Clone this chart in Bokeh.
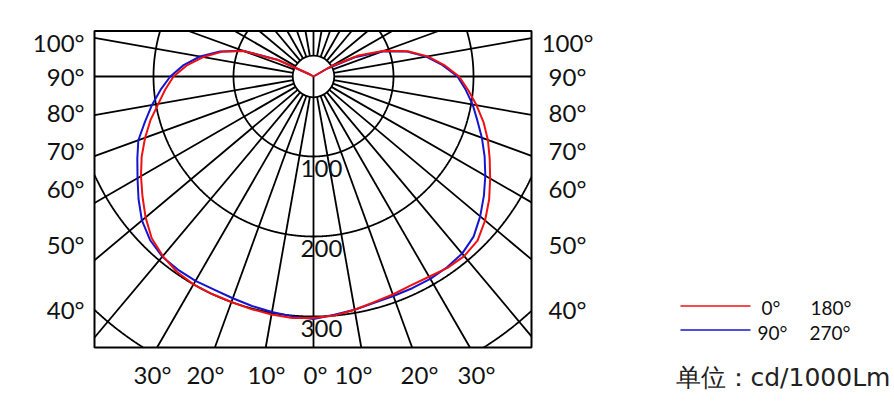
import numpy as np
from bokeh.plotting import figure
from bokeh.models import Range1d
from bokeh.core.properties import value
from bokeh.embed import file_html
from bokeh.resources import INLINE

# ---------------- data (cd/1000lm) ----------------
angles = [0, 5, 10, 15, 20, 25, 30, 35, 40, 45, 50, 55, 60, 65, 70, 75, 80, 85,
          90, 95, 100, 105, 110, 115, 120, 125]
c0_red = [302, 300, 296, 292, 290, 288, 289, 292, 293, 290, 280, 268, 255, 243,
          232, 220, 207, 194, 182, 164, 145, 122, 94, 62, 25, 0]
c180_red = [302, 303, 302, 301, 300, 300, 300, 298, 293, 286, 274, 261, 249, 237,
            224, 211, 197, 186, 175, 159, 140, 119, 93, 48, 5, 0]
c90_blue = [303, 299, 296, 293, 292, 292, 292, 291, 289, 283, 272, 260, 248, 236,
            224, 212, 202, 191, 180, 162, 143, 121, 92, 57, 20, 0]
c270_blue = [303, 301, 299, 297, 295, 294, 295, 295, 294, 289, 280, 267, 254, 243,
             233, 218, 205, 192, 179, 163, 144, 121, 94, 50, 5, 0]

ring_values = [100, 200, 300, 400]
ring_labels = ["100", "200", "300"]
grid_step_deg = 10
side_labels = ["100°", "90°", "80°", "70°", "60°", "50°", "40°"]
bottom_labels = ["30°", "20°", "10°", "0°", "10°", "20°", "30°"]
legend_red = ["0°", "180°"]
legend_blue = ["90°", "270°"]
unit_text = "单位：cd/1000Lm"

# ---------------- layout helpers (pixel -> data) ----------------
W, H = 894, 416
OX, OY = 0, 0                      # page offset of the canvas
CX, CY, S = 313.0, 76.0, 0.8        # centre on page, px per cd


def px(sx):
    return (sx - CX) / S


def py(sy):
    return (CY - sy) / S


p = figure(width=W, height=H, output_backend="svg", toolbar_location=None,
           x_range=Range1d(px(OX), px(OX + W)), y_range=Range1d(py(OY + H), py(OY)),
           min_border=0, outline_line_color=None)
p.axis.visible = False
p.grid.visible = False
p.background_fill_color = "white"
p.border_fill_color = "white"

XL, XR, YT, YB = px(94), px(531), py(30.5), py(347)
HUB = 26.0

# radial lines
xs, ys = [], []
for a in range(0, 360, grid_step_deg):
    t = np.radians(a)
    dx, dy = np.sin(t), -np.cos(t)
    lims = []
    if dx > 1e-9:
        lims.append(XR / dx)
    if dx < -1e-9:
        lims.append(XL / dx)
    if dy > 1e-9:
        lims.append(YT / dy)
    if dy < -1e-9:
        lims.append(YB / dy)
    tend = min(lims)
    r0 = 0.0 if a == 0 else HUB
    xs.append([r0 * dx, tend * dx])
    ys.append([r0 * dy, tend * dy])
p.multi_line(xs, ys, line_color="black", line_width=1.8)

# rings clipped to frame
phi = np.linspace(0, 2 * np.pi, 3000)
for rv in ring_values:
    x = rv * np.cos(phi)
    y = rv * np.sin(phi)
    inside = (x >= XL) & (x <= XR) & (y <= YT) & (y >= YB)
    x = np.where(inside, x, np.nan)
    y = np.where(inside, y, np.nan)
    p.line(x, y, line_color="black", line_width=1.8)

# frame
p.quad(left=XL, right=XR, top=YT, bottom=YB, fill_color=None,
       line_color="black", line_width=2)

# hub
p.circle(x=0, y=0, radius=HUB, fill_color="white", line_color="black",
         line_width=1.8)
p.segment(x0=0, y0=0, x1=0, y1=-HUB, line_color="black", line_width=1.8)


def curve(right, left):
    ar = np.radians(np.array(angles, dtype=float))
    rr = np.array(right, dtype=float)
    rl = np.array(left, dtype=float)
    x = np.concatenate([(-rl * np.sin(ar))[::-1], rr * np.sin(ar)])
    y = np.concatenate([(-rl * np.cos(ar))[::-1], -rr * np.cos(ar)])
    return x, y


RED = "#f01010"
BLUE = "#1515d0"
bx, by = curve(c90_blue, c270_blue)
p.line(bx, by, line_color=BLUE, line_width=2, line_join="round")
rx, ry = curve(c0_red, c180_red)
p.line(rx, ry, line_color=RED, line_width=2, line_join="round")

FONT = value("Lato")
TXT = "#111111"

# ring labels
p.text(x=[10] * len(ring_labels), y=[-v - 15 for v in ring_values[:3]],
       text=ring_labels, text_font=FONT, text_font_size="24px",
       text_align="center", text_baseline="middle", text_color=TXT)

# side labels
side_y = [42, 76, 112, 150, 188, 244, 309]
p.text(x=[px(84)] * len(side_labels), y=[py(v) for v in side_y], text=side_labels,
       text_font=FONT, text_font_size="24px", text_align="right",
       text_baseline="middle", text_color=TXT)
p.text(x=[px(567)] * len(side_labels), y=[py(v) for v in side_y], text=side_labels,
       text_font=FONT, text_font_size="24px", text_align="center",
       text_baseline="middle", text_color=TXT)

# bottom labels
bottom_x = [152, 205, 266, 315, 353, 419, 476]
p.text(x=[px(v) for v in bottom_x], y=[py(373.5)] * len(bottom_labels),
       text=bottom_labels, text_font=FONT, text_font_size="24px",
       text_align="center", text_baseline="middle", text_color=TXT)

# legend
p.segment(x0=px(680), y0=py(305.5), x1=px(750), y1=py(305.5), line_color=RED,
          line_width=1.5)
p.segment(x0=px(680), y0=py(329.5), x1=px(750), y1=py(329.5), line_color=BLUE,
          line_width=1.5)
p.text(x=[px(761), px(810)], y=[py(307)] * 2, text=legend_red, text_font=FONT,
       text_font_size="19px", text_align="left", text_baseline="middle",
       text_color=TXT)
p.text(x=[px(757), px(809)], y=[py(331.5)] * 2, text=legend_blue, text_font=FONT,
       text_font_size="19px", text_align="left", text_baseline="middle",
       text_color=TXT)
p.text(x=[px(675)], y=[py(377)], text=[unit_text],
       text_font=value("DejaVu Sans"), text_font_size="25px",
       text_align="left", text_baseline="middle", text_color="#222222")

open("out.html", "w").write(file_html(p, INLINE))
